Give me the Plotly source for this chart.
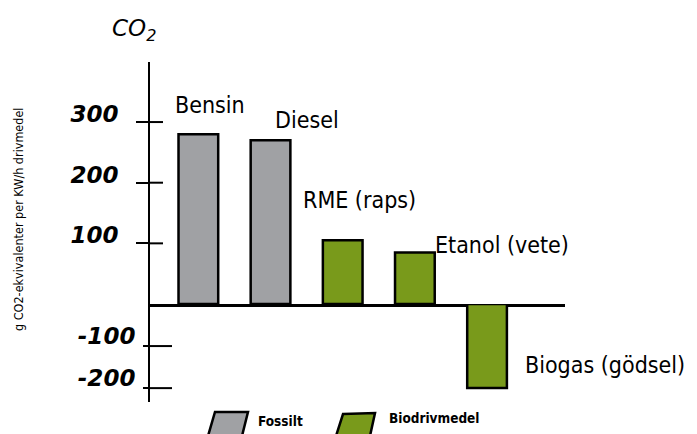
import plotly.graph_objects as go

# ---- data ----
categories = ["Bensin", "Diesel", "RME (raps)", "Etanol (vete)", "Biogas (gödsel)"]
values = [280, 270, 105, 85, -200]
groups = ["Fossilt", "Fossilt", "Biodrivmedel", "Biodrivmedel", "Biodrivmedel"]
pos_ticks = [100, 200, 300]
neg_ticks = [-100, -200]
neg_tick_text = ["-100", "-200"]
y_title = "g CO2-ekvivalenter per KW/h drivmedel"

colors = {"Fossilt": "#a0a1a4", "Biodrivmedel": "#799a1b"}

# the page body adds an 8px margin, so the figure is 8px smaller
W, H = 689, 426
ML, MR, MT, MB = 142, 132, 54, 32
PW, PH = W - ML - MR, H - MT - MB
split = 98 / PH  # paper fraction of negative part


def px(x):  # screenshot pixel -> paper
    return (x - 150) / PW


def py(y):
    return (402 - y) / PH


fig = go.Figure()
for g in ["Fossilt", "Biodrivmedel"]:
    xs = [c for c, gg, v in zip(categories, groups, values) if gg == g and v >= 0]
    ys = [v for gg, v in zip(groups, values) if gg == g and v >= 0]
    fig.add_trace(go.Bar(x=xs, y=ys, name=g, yaxis="y", width=0.55,
                         marker=dict(color=colors[g], line=dict(color="black", width=2.5)),
                         showlegend=False))
    xs = [c for c, gg, v in zip(categories, groups, values) if gg == g and v < 0]
    ys = [v for gg, v in zip(groups, values) if gg == g and v < 0]
    if xs:
        fig.add_trace(go.Bar(x=xs, y=ys, name=g, yaxis="y2", width=0.55,
                             marker=dict(color=colors[g], line=dict(color="black", width=2.5)),
                             showlegend=False))

label_font = dict(family="DejaVu Sans Condensed", size=23, color="black")
tick_font = dict(family="DejaVu Sans", size=23, color="black", style="italic", weight="bold")

# bar labels: (xanchor, yanchor, xshift, yshift)
label_place = [("center", "bottom", 12, 14), ("left", "middle", 2, 20),
               ("center", "middle", 17, 40), ("left", "middle", 18, 7),
               ("left", "middle", 36, 23)]
ann = []
for c, v, (xa, ya, xs_, ys_) in zip(categories, values, label_place):
    ann.append(dict(x=c, y=v, xref="x", yref="y" if v >= 0 else "y2", text=c,
                    showarrow=False, xanchor=xa, yanchor=ya, xshift=xs_, yshift=ys_,
                    font=label_font))

ann.append(dict(x=px(18), y=py(220), xref="paper", yref="paper", text=y_title,
                textangle=-90, showarrow=False, xanchor="center", yanchor="middle",
                font=dict(family="DejaVu Sans Condensed", size=12.5, color="black")))
ann.append(dict(x=px(134), y=py(30), xref="paper", yref="paper",
                text="<i>CO<sub>2</sub></i>", showarrow=False,
                xanchor="center", yanchor="middle",
                font=dict(family="DejaVu Sans", size=23, color="black")))

# legend (hand-drawn style parallelograms)
legend_items = [("Fossilt", [(215, 412), (248, 412), (242, 436), (208, 436)], 256, 421),
                ("Biodrivmedel", [(343, 414), (375, 413), (370, 436), (336, 436)], 387, 418)]
shapes = []
for name, pts, tx, ty in legend_items:
    path = "M " + " L ".join(f"{px(a):.4f},{py(b):.4f}" for a, b in pts) + " Z"
    shapes.append(dict(type="path", path=path, xref="paper", yref="paper",
                       fillcolor=colors[name], line=dict(color="black", width=2.5)))
    ann.append(dict(x=px(tx), y=py(ty), xref="paper", yref="paper", text=name,
                    showarrow=False, xanchor="left", yanchor="middle",
                    font=dict(family="DejaVu Sans Condensed", size=13.5, color="black",
                              weight="bold")))

# inner halves of the crossing tick marks
for t in pos_ticks:
    shapes.append(dict(type="line", xref="paper", yref="y", x0=0, x1=px(163), y0=t, y1=t,
                       line=dict(color="black", width=2)))
for t in neg_ticks:
    shapes.append(dict(type="line", xref="paper", yref="y2", x0=0, x1=px(172), y0=t, y1=t,
                       line=dict(color="black", width=2)))

fig.update_layout(
    width=W, height=H, margin=dict(l=ML, r=MR, t=MT, b=MB),
    paper_bgcolor="white", plot_bgcolor="white", barmode="overlay",
    showlegend=False, annotations=ann, shapes=shapes,
    xaxis=dict(type="category", categoryorder="array", categoryarray=categories,
               range=[-0.67, 5.08], showticklabels=False, showgrid=False,
               zeroline=False, showline=True, linecolor="black", linewidth=2.5,
               anchor="y", ticks=""),
    yaxis=dict(domain=[split, 1], range=[0, 399], tickvals=pos_ticks,
               showgrid=False, zeroline=False, showline=True, linecolor="black",
               linewidth=2, ticks="outside", ticklen=12, tickwidth=2, tickcolor="black",
               tickfont=tick_font, ticklabelstandoff=13, ticklabelshift=-8, anchor="x"),
    yaxis2=dict(domain=[0, split], range=[-233, 0], tickvals=neg_ticks,
                ticktext=neg_tick_text,
                showgrid=False, zeroline=False, showline=True, linecolor="black",
                linewidth=2, ticks="outside", ticklen=5, tickwidth=2, tickcolor="black",
                tickfont=tick_font, ticklabelstandoff=3, ticklabelshift=-10, anchor="x"),
)

fig.write_html("out.html")
